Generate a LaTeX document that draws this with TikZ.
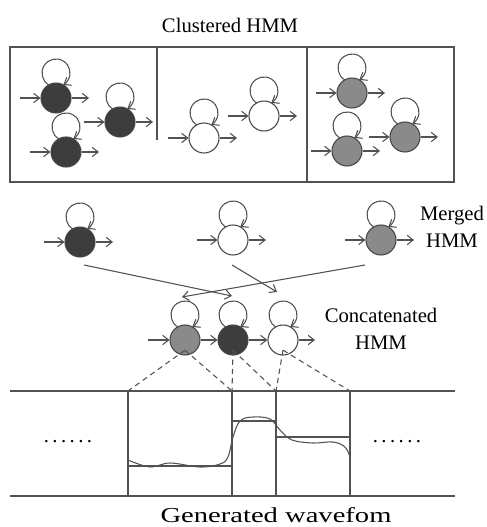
\documentclass[tikz,border=0pt]{standalone}
\usepackage{fontspec}
\setmainfont{Liberation Serif}
\usetikzlibrary{arrows.meta}

\begin{document}
\begin{tikzpicture}[x=0.75pt,y=0.75pt,yscale=-1,xscale=1,
  line width=0.8pt,
  >={Straight Barb[length=4.5pt,width=7pt]},
  state/.style={circle,draw=black!72,minimum size=22.5pt,inner sep=0pt},
  darkstate/.style={state,fill=black!76},
  greystate/.style={state,fill=black!46},
  whitestate/.style={state,fill=white},
  wire/.style={draw=black!68},
  lbl/.style={inner sep=0.75pt,font=\fontsize{15.5}{20.25}\selectfont,align=center}]
\path[use as bounding box] (0,0) rectangle (486,527);

%Shape: Rectangle (clusters)
\draw[wire] (10,47) rectangle (454,182);
\draw[wire] (157,47) -- (157,140);
\draw[wire] (307,47) -- (307,182);

%States of the clustered HMM
\node[darkstate] (d1) at (56,98) {};
\node[darkstate] (d2) at (120,122) {};
\node[darkstate] (d3) at (66,152) {};
\node[whitestate] (w1) at (204,138) {};
\node[whitestate] (w2) at (264,116) {};
\node[greystate] (g1) at (352,93) {};
\node[greystate] (g2) at (347,151) {};
\node[greystate] (g3) at (405,137) {};

%Merged HMM
\node[darkstate] (md) at (80,242) {};
\node[whitestate] (mw) at (233,240) {};
\node[greystate] (mg) at (381,240) {};

%Concatenated HMM
\node[greystate] (cg) at (185,340) {};
\node[darkstate] (cd) at (233,340) {};
\node[whitestate] (cw) at (283,340) {};

%entry and exit arrows
\foreach \n in {d1,d2,d3,w1,w2,g1,g2,g3,md,mw,mg}{
  \coordinate (\n-in) at ([xshift=-27pt]\n.center);
  \coordinate (\n-out) at ([xshift=24.75pt]\n.center);
  \draw[wire,->] (\n-in) -- (\n);
  \draw[wire,->] (\n) -- (\n-out);
}

%self transitions
\foreach \n in {d1,d2,d3,w1,w2,g1,g2,g3,md,mw,mg,cg,cd,cw}{
  \coordinate (\n-l) at ([shift={(-7.3,-13.1)}]\n.center);
  \draw[wire,->] (\n-l) arc[start angle=121.5,end angle=418.5,radius=14];
}

\coordinate (cg-in) at ([xshift=-27.75pt]cg.center);
\coordinate (cw-out) at ([xshift=24pt]cw.center);
\draw[wire,->] (cg-in) -- (cg);
\draw[wire,->] (cg) -- (cd);
\draw[wire,->] (cd) -- (cw);
\draw[wire,->] (cw) -- (cw-out);

%Straight Lines (merged to concatenated)
\coordinate (md-b) at (84,265);
\coordinate (mw-b) at (232,265);
\coordinate (mg-b) at (365,265);
\coordinate (cg-t) at (182,297);
\coordinate (cd-t) at (232,296);
\coordinate (cw-t) at (277,292);
\draw[wire,->] (md-b) -- (cd-t);
\draw[wire,->] (mw-b) -- (cw-t);
\draw[wire,->] (mg-b) -- (cg-t);

%Waveform frame
\coordinate (t1) at (128,391);
\coordinate (t2) at (232,391);
\coordinate (t3) at (276,391);
\coordinate (t4) at (350,391);
\draw[wire] (10,391) -- (455,391);
\draw[wire] (10,496) -- (455,496);
\draw[wire] (t1) -- (128,496);
\draw[wire] (t2) -- (232,496);
\draw[wire] (t3) -- (276,496);
\draw[wire] (t4) -- (350,496);
%state means
\draw[wire] (128,466) -- (232,466);
\draw[wire] (232,421) -- (276,421);
\draw[wire] (276,437) -- (350,437);
%Curve
\draw[wire] plot[smooth,tension=0.6] coordinates {(128,460) (150,467) (170,463) (200,467) (220,464) (228,457) (233,437) (240,421) (253,417) (270,419) (280,430) (292,440) (313,443) (333,442) (345,447) (350,457)};

%Dashed Lines
\foreach \n in {cg,cd,cw}{
  \coordinate (\n-s) at ([yshift=-4pt]\n.south);
}
\draw[wire,dash pattern=on 4pt off 3pt] (cg-s) -- (t1);
\draw[wire,dash pattern=on 4pt off 3pt] (cg-s) -- (t2);
\draw[wire,dash pattern=on 4pt off 3pt] (cd-s) -- (t2);
\draw[wire,dash pattern=on 4pt off 3pt] (cd-s) -- (t3);
\draw[wire,dash pattern=on 4pt off 3pt] (cw-s) -- (t3);
\draw[wire,dash pattern=on 4pt off 3pt] (cw-s) -- (t4);

% Text Node
\node[lbl] (clust) at (230,25) {Clustered HMM};
% Text Node
\node[lbl] (merged) at (452,227) {Merged\\HMM};
% Text Node
\node[lbl] (concat) at (381,329) {Concatenated\\HMM};
% Text Node
\node[lbl] (dotsl) at (68,442) {.\,.\,.\,.\,.\,.};
% Text Node
\node[lbl] (dotsr) at (397,442) {.\,.\,.\,.\,.\,.};
% Text Node
\node[lbl,font=\fontsize{16}{20}\selectfont,xscale=1.34] (gen) at (276,515) {Generated wavefom};
\end{tikzpicture}
\end{document}
